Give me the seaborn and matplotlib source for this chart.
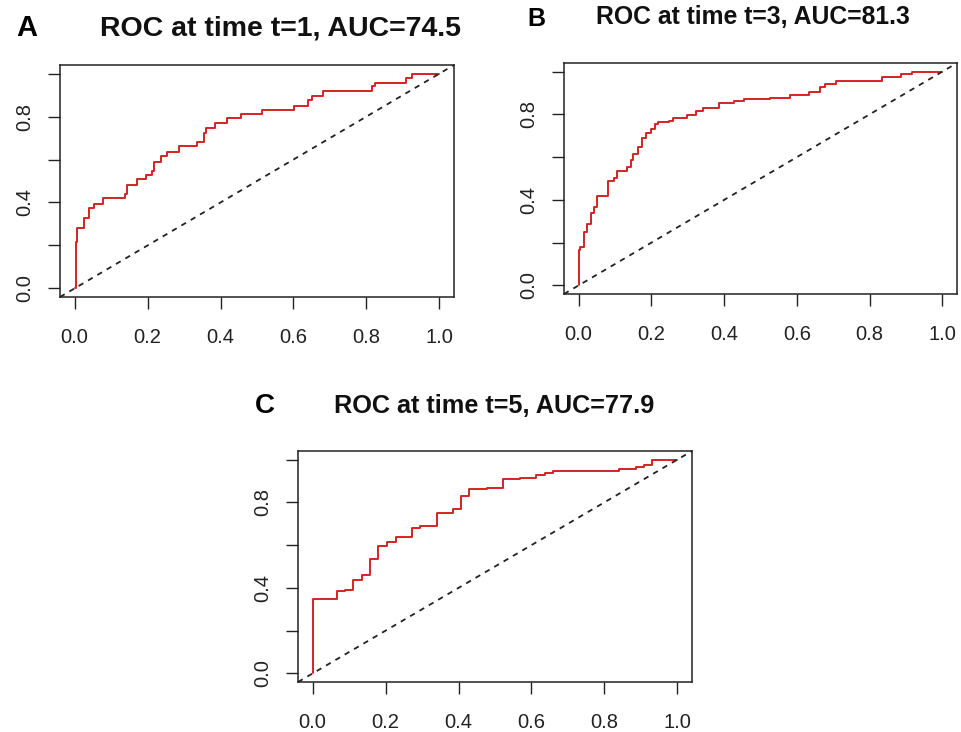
import numpy as np
import pandas as pd
import seaborn as sns
import matplotlib
matplotlib.use('Agg')
import matplotlib.pyplot as plt

sns.set_style('white')
plt.rcParams['font.family'] = ['Liberation Sans', 'DejaVu Sans']

# ROC curves (false positive rate, true positive rate)
fpr_a = [0, 0.003, 0.006, 0.027, 0.039, 0.052, 0.077, 0.139, 0.145, 0.171,
         0.195, 0.211, 0.218, 0.236, 0.252, 0.285, 0.335, 0.355, 0.361, 0.386,
         0.418, 0.456, 0.515, 0.602, 0.639, 0.650, 0.680, 0.816, 0.823, 0.909,
         0.925, 1.0]
tpr_a = [0, 0.217, 0.283, 0.329, 0.373, 0.393, 0.419, 0.438, 0.482, 0.508,
         0.528, 0.547, 0.590, 0.617, 0.637, 0.663, 0.680, 0.722, 0.749, 0.769,
         0.795, 0.812, 0.831, 0.851, 0.878, 0.896, 0.917, 0.940, 0.958, 0.979,
         1.0, 1.0]

fpr_b = [0, 0.0, 0.004, 0.015, 0.022, 0.034, 0.043, 0.052, 0.082, 0.098,
         0.107, 0.134, 0.143, 0.150, 0.163, 0.175, 0.186, 0.198, 0.209, 0.218,
         0.248, 0.260, 0.298, 0.323, 0.342, 0.387, 0.426, 0.455, 0.526, 0.581,
         0.633, 0.663, 0.676, 0.708, 0.833, 0.886, 0.916, 1.0]
tpr_b = [0, 0.168, 0.181, 0.250, 0.289, 0.338, 0.366, 0.417, 0.487, 0.501,
         0.536, 0.555, 0.587, 0.614, 0.649, 0.691, 0.714, 0.730, 0.753, 0.764,
         0.771, 0.784, 0.799, 0.815, 0.830, 0.853, 0.861, 0.873, 0.876, 0.892,
         0.904, 0.926, 0.941, 0.954, 0.974, 0.988, 1.0, 1.0]

fpr_c = [0, 0, 0.067, 0.089, 0.111, 0.135, 0.157, 0.180, 0.205, 0.228,
         0.272, 0.295, 0.340, 0.386, 0.406, 0.429, 0.479, 0.522, 0.568, 0.612,
         0.637, 0.659, 0.840, 0.886, 0.909, 0.930, 1.0]
tpr_c = [0, 0.348, 0.384, 0.391, 0.435, 0.461, 0.534, 0.596, 0.613, 0.640,
         0.679, 0.689, 0.748, 0.767, 0.829, 0.862, 0.868, 0.907, 0.915, 0.927,
         0.939, 0.946, 0.958, 0.966, 0.974, 1.0, 1.0]

panel_letters = ['A', 'B', 'C']
panel_titles = ['ROC at time t=1, AUC=74.5',
                'ROC at time t=3, AUC=81.3',
                'ROC at time t=5, AUC=77.9']

x_ticks = [0.0, 0.2, 0.4, 0.6, 0.8, 1.0]
x_labels = ['0.0', '0.2', '0.4', '0.6', '0.8', '1.0']
y_ticks = [0.0, 0.2, 0.4, 0.6, 0.8, 1.0]
y_labels = ['0.0', '', '0.4', '', '0.8', '']

W, H = 962, 732
fig = plt.figure(figsize=(W / 100, H / 100), dpi=100)

def px_axes(x0, y0, x1, y1):
    return fig.add_axes([x0 / W, 1 - y1 / H, (x1 - x0) / W, (y1 - y0) / H])

# axes boxes in pixels, plus title / letter positions and sizes
layout = [
    dict(box=(60, 65, 454, 297), title=(281, 28, 20.5), letter=(27, 28, 21)),
    dict(box=(564, 63, 957, 294), title=(753, 17, 17.8), letter=(536, 19, 18)),
    dict(box=(298, 451, 692, 682), title=(494, 406, 18.2), letter=(265, 406, 20)),
]
curves = [(fpr_a, tpr_a), (fpr_b, tpr_b), (fpr_c, tpr_c)]

for i, (fpr, tpr) in enumerate(curves):
    lay = layout[i]
    ax = px_axes(*lay['box'])
    df = pd.DataFrame({'fpr': fpr, 'tpr': tpr})
    sns.lineplot(data=df, x='fpr', y='tpr', ax=ax, estimator=None, sort=False,
                 drawstyle='steps-post', color='#D42424', linewidth=1.4)
    ax.axline((0, 0), slope=1, color='#222222', linewidth=1.3,
              linestyle=(0, (3, 3)))
    ax.set_xlim(-0.04, 1.04)
    ax.set_ylim(-0.04, 1.04)
    ax.set_xticks(x_ticks)
    ax.set_xticklabels(x_labels)
    ax.set_yticks(y_ticks)
    ax.set_yticklabels(y_labels, rotation=90, va='center')
    ax.tick_params(axis='both', direction='out', length=8.5, width=1.0,
                   color='#222222', labelsize=14.5, labelcolor='#222222',
                   bottom=True, left=True)
    ax.tick_params(axis='x', pad=13.5)
    ax.tick_params(axis='y', pad=10)
    ax.set_xlabel('')
    ax.set_ylabel('')
    for s in ax.spines.values():
        s.set_color('#222222')
        s.set_linewidth(1.1)

    tx, ty, ts = lay['title']
    fig.text(tx / W, 1 - ty / H, panel_titles[i], ha='center', va='center',
             fontsize=ts, fontweight='bold', color='#111111')
    lx, ly, ls = lay['letter']
    fig.text(lx / W, 1 - ly / H, panel_letters[i], ha='center', va='center',
             fontsize=ls, fontweight='bold', color='black')

fig.savefig('out.png', dpi=100)
